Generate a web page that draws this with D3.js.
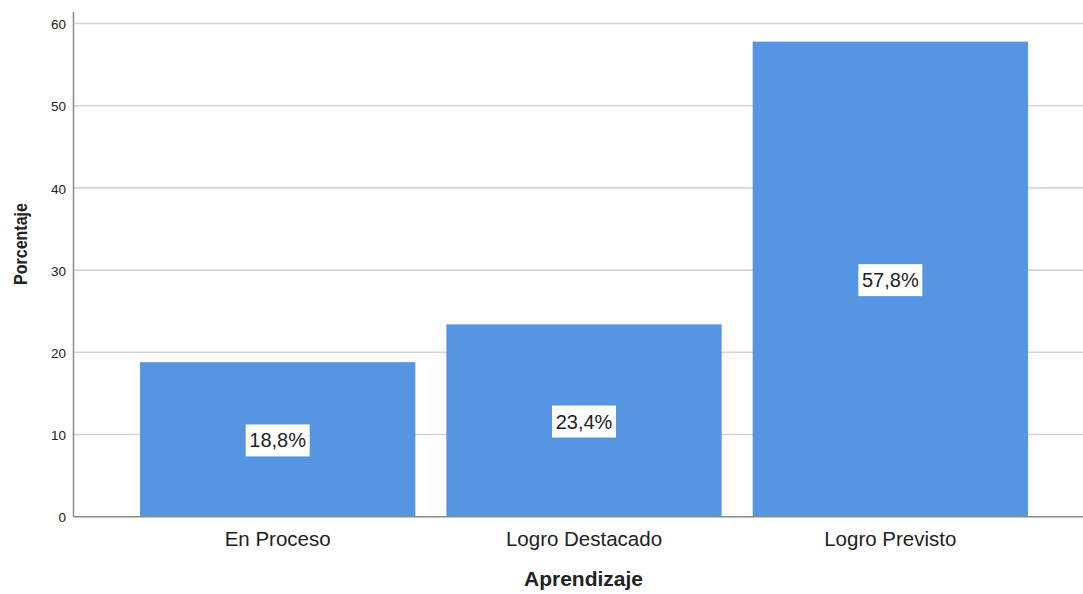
<!DOCTYPE html>
<html><head><meta charset="utf-8">
<script src="https://cdn.jsdelivr.net/npm/d3@7"></script>
<style>body{margin:0;background:#fff;} svg{display:block;}</style>
</head><body>
<svg id="c" width="1083" height="594"></svg>
<script>
const categories = ["En Proceso", "Logro Destacado", "Logro Previsto"];
const values = [18.8, 23.4, 57.8];
const labels = ["18,8%", "23,4%", "57,8%"];
const yTicks = [0, 10, 20, 30, 40, 50, 60];

const svg = d3.select("#c");
const font = "Arial, 'Liberation Sans', sans-serif";
const axisX = 73.5, plotRight = 1083, y0px = 516.7;
const y = d3.scaleLinear().domain([0, 60]).range([y0px, 23.5]);
const x = d3.scaleBand().domain(categories).range([124.5, 1043.5]).paddingInner(0.1013).paddingOuter(0.0507);

// gridlines
svg.append("g").selectAll("line").data(yTicks.filter(d => d > 0)).join("line")
  .attr("x1", axisX).attr("x2", plotRight)
  .attr("y1", d => y(d)).attr("y2", d => y(d))
  .attr("stroke", "#d4d4d4").attr("stroke-width", 1.6);

// bars
svg.append("g").selectAll("rect").data(values).join("rect")
  .attr("x", (d, i) => x(categories[i]))
  .attr("width", x.bandwidth())
  .attr("y", d => y(d))
  .attr("height", d => y(0) - y(d))
  .attr("fill", "#5595e2");

// axes lines
svg.append("line").attr("x1", axisX).attr("x2", axisX).attr("y1", 12).attr("y2", y0px)
  .attr("stroke", "#8a8a8a").attr("stroke-width", 1.5);
svg.append("line").attr("x1", axisX).attr("x2", plotRight).attr("y1", y0px).attr("y2", y0px)
  .attr("stroke", "#8a8a8a").attr("stroke-width", 1.5);

// y tick labels
svg.append("g").selectAll("text").data(yTicks).join("text")
  .attr("x", 66).attr("y", d => y(d) + 1).attr("dy", "0.35em")
  .attr("text-anchor", "end").attr("font-family", font)
  .attr("font-size", 13.5).attr("fill", "#222").text(d => d);

// category labels
svg.append("g").selectAll("text").data(categories).join("text")
  .attr("x", d => x(d) + x.bandwidth() / 2).attr("y", 539).attr("dy", "0.35em")
  .attr("text-anchor", "middle").attr("font-family", font)
  .attr("font-size", 20.5).attr("fill", "#222").text(d => d);

// value labels
const lg = svg.append("g").selectAll("g").data(values).join("g")
  .attr("transform", (d, i) => `translate(${x(categories[i]) + x.bandwidth() / 2},${y(d / 2) + 1})`);
lg.append("rect").attr("x", -32).attr("y", -16).attr("width", 64).attr("height", 32).attr("fill", "#fff");
lg.append("text").attr("text-anchor", "middle").attr("dy", "0.35em")
  .attr("font-family", font).attr("font-size", 20)
  .attr("fill", "#222").text((d, i) => labels[i]);

// axis titles
svg.append("text").attr("x", 583.5).attr("y", 579).attr("dy", "0.35em")
  .attr("text-anchor", "middle").attr("font-family", font)
  .attr("font-size", 21).attr("font-weight", "bold").attr("fill", "#222").text("Aprendizaje");
svg.append("text").attr("transform", "translate(21,244) rotate(-90)").attr("dy", "0.35em")
  .attr("text-anchor", "middle").attr("font-family", font)
  .attr("font-size", 18.5).attr("font-weight", "bold").attr("fill", "#222")
  .attr("textLength", 82).attr("lengthAdjust", "spacingAndGlyphs").text("Porcentaje");
</script>
</body></html>
